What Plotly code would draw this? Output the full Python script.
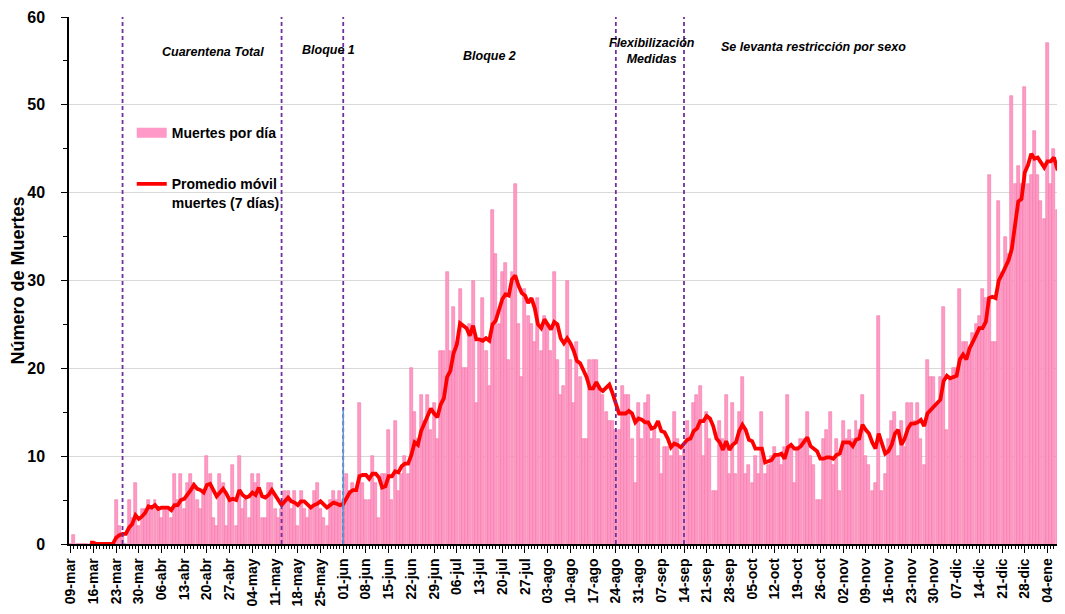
import pandas as pd
import plotly.graph_objects as go

# ---------------- data ----------------
start_date = "2020-03-09"
deaths = [
    0, 1, 0, 0, 0, 0, 0,
    0, 0, 0, 0, 0, 0, 0,
    5, 2, 1, 0, 5, 3, 7,
    2, 4, 4, 5, 4, 5, 4,
    3, 4, 4, 3, 8, 5, 8,
    4, 7, 8, 7, 5, 4, 6,
    10, 8, 3, 2, 8, 7, 2,
    5, 9, 2, 10, 4, 5, 3,
    8, 7, 8, 3, 3, 7, 7,
    4, 3, 4, 6, 6, 4, 6,
    2, 6, 4, 3, 4, 6, 7,
    4, 3, 2, 5, 6, 5, 6,
    5, 8, 6, 7, 6, 16, 7,
    5, 5, 10, 7, 3, 8, 8,
    13, 5, 14, 6, 8, 10, 8,
    20, 15, 12, 17, 14, 17, 13,
    16, 12, 22, 22, 31, 22, 27,
    23, 29, 20, 20, 25, 30, 16,
    23, 28, 22, 18, 38, 33, 25,
    31, 32, 21, 31, 41, 25, 19,
    29, 26, 25, 23, 28, 22, 26,
    25, 22, 31, 21, 17, 18, 30,
    21, 16, 23, 19, 12, 12, 21,
    21, 21, 18, 17, 15, 14, 14,
    13, 13, 18, 17, 17, 12, 7,
    16, 12, 16, 17, 12, 13, 12,
    8, 11, 11, 10, 15, 12, 10,
    11, 14, 12, 16, 17, 18, 10,
    15, 12, 6, 6, 14, 12, 17,
    8, 16, 8, 15, 19, 8, 9,
    7, 10, 8, 15, 8, 9, 10,
    11, 10, 9, 11, 17, 11, 7,
    11, 12, 12, 15, 10, 9, 5,
    5, 12, 13, 15, 9, 12, 6,
    14, 12, 13, 12, 14, 13, 17,
    10, 9, 6, 7, 26, 6, 8,
    12, 14, 15, 10, 14, 11, 16,
    16, 14, 16, 12, 9, 21, 19,
    19, 16, 19, 27, 13, 19, 20,
    20, 29, 23, 23, 22, 24, 25,
    26, 29, 28, 42, 23, 23, 39,
    31, 35, 33, 51, 41, 43, 41,
    52, 41, 42, 47, 42, 39, 37,
    57, 41, 45, 38, 42, 47,
]
dates = pd.date_range(start_date, periods=len(deaths), freq="D")

tick_labels = [
    "09-mar", "16-mar", "23-mar", "30-mar", "06-abr", "13-abr", "20-abr", "27-abr",
    "04-may", "11-may", "18-may", "25-may", "01-jun", "08-jun", "15-jun", "22-jun",
    "29-jun", "06-jul", "13-jul", "20-jul", "27-jul", "03-ago", "10-ago", "17-ago",
    "24-ago", "31-ago", "07-sep", "14-sep", "21-sep", "28-sep", "05-oct", "12-oct",
    "19-oct", "26-oct", "02-nov", "09-nov", "16-nov", "23-nov", "30-nov", "07-dic",
    "14-dic", "21-dic", "28-dic", "04-ene",
]
tick_dates = pd.date_range(start_date, periods=len(tick_labels), freq="7D")

event_dates = ["2020-03-25", "2020-05-13", "2020-06-01", "2020-08-24", "2020-09-14"]
marker_date = "2020-06-01"
marker_height = 15.3

phase_labels = ["<i>Cuarentena Total</i>", "<i>Bloque 1</i>", "<i>Bloque 2</i>",
                "<i>Flexibilización<br>Medidas</i>", "<i>Se levanta restricción por sexo</i>"]
phase_x_px = [213, 328, 489, 652, 813]
phase_y_px = [52, 50, 56, 51, 47]

series_names = ["Muertes por día", "Promedio móvil<br>muertes (7 días)"]

# 7-day moving average of the daily series (as in the chart's definition)
moving_avg = pd.Series(deaths, index=dates).rolling(7).mean()

# ---------------- figure ----------------
# the page body has an 8px margin, so the figure is placed at (8, 8)
OFF = 8
W, H = 1065 - OFF, 614 - OFF
PLOT_L, PLOT_R, PLOT_T, PLOT_B = 69, 1065, 17, 544   # plot area in window pixels
ML, MR, MT, MB = PLOT_L - OFF, 0, PLOT_T - OFF, H - (PLOT_B - OFF)
PW, PH = PLOT_R - PLOT_L, PLOT_B - PLOT_T

BAR_FILL = "#FF99C8"
BAR_EDGE = "#F2799F"
LINE_RED = "#FF0000"
PURPLE = "#7030A0"
FONT = "Liberation Sans"

fig = go.Figure()

fig.add_trace(go.Bar(
    x=dates, y=deaths, name=series_names[0], showlegend=False,
    marker=dict(color=BAR_FILL, line=dict(color=BAR_EDGE, width=0.6)),
    width=86400000 * 0.92,
))
fig.add_trace(go.Scatter(
    x=dates, y=moving_avg, mode="lines", name=series_names[1], showlegend=False,
    line=dict(color=LINE_RED, width=3.8),
))
# legend entries
fig.add_trace(go.Scatter(
    x=[None], y=[None], mode="lines", name="<b>" + series_names[0] + "</b>", legendgroup="a",
    line=dict(color=BAR_FILL, width=11),
))
fig.add_trace(go.Scatter(
    x=[None], y=[None], mode="lines", name="<b>" + series_names[1] + "</b>", legendgroup="b",
    line=dict(color=LINE_RED, width=3.8),
))

shapes = []
for d in event_dates:
    shapes.append(dict(type="line", xref="x", yref="paper", x0=d, x1=d, y0=0, y1=1,
                       line=dict(color=PURPLE, width=1.8, dash="4px,3px"), layer="above"))
shapes.append(dict(type="line", xref="x", yref="y", x0=marker_date, x1=marker_date,
                   y0=0, y1=marker_height, line=dict(color="#5B9BD5", width=1.6), layer="above"))

annotations = []
for txt, px, py in zip(phase_labels, phase_x_px, phase_y_px):
    annotations.append(dict(
        text="<b>" + txt + "</b>", xref="paper", yref="paper",
        x=(px - PLOT_L) / PW, y=(PLOT_B - py) / PH, showarrow=False,
        xanchor="center", yanchor="middle", align="center",
        font=dict(family=FONT, size=12.5, color="#000000"),
    ))

x_start = dates[0] - pd.Timedelta(hours=12)
x_end = dates[0] + pd.Timedelta(days=306.4)

fig.update_layout(
    width=W, height=H,
    margin=dict(l=ML, r=MR, t=MT, b=MB, pad=0),
    paper_bgcolor="white", plot_bgcolor="white",
    bargap=0,
    showlegend=True,
    legend=dict(x=0.063, y=0.81, xanchor="left", yanchor="top",
                bgcolor="rgba(0,0,0,0)", font=dict(family=FONT, size=14, color="#000000"),
                tracegroupgap=30, valign="top", itemwidth=30),
    shapes=shapes,
    annotations=annotations,
    font=dict(family=FONT, color="#000000"),
)

fig.update_xaxes(
    type="date", range=[x_start, x_end],
    tickmode="array", tickvals=tick_dates, ticktext=["<b>" + t + "</b>" for t in tick_labels],
    tickangle=-90, tickfont=dict(family=FONT, size=14, color="#000000"),
    ticks="outside", ticklen=7, tickwidth=1.3, tickcolor="#000000",
    minor=dict(tickmode="linear", tick0=start_date, dtick=86400000,
               ticks="outside", ticklen=3, tickwidth=1, tickcolor="#000000", showgrid=False),
    showline=True, linecolor="#000000", linewidth=1.5,
    showgrid=False, zeroline=False,
)
fig.update_yaxes(
    range=[0, 60], tickmode="array", tickvals=[0, 10, 20, 30, 40, 50, 60],
    ticktext=["<b>%d</b>" % v for v in [0, 10, 20, 30, 40, 50, 60]],
    tickfont=dict(family=FONT, size=16, color="#000000"),
    ticks="outside", ticklen=6, tickwidth=1.3, tickcolor="#000000",
    ticklabelstandoff=13,
    minor=dict(tickmode="linear", tick0=0, dtick=5, ticks="outside", ticklen=4,
               tickcolor="#000000", showgrid=False),
    showline=True, linecolor="#000000", linewidth=1.5,
    showgrid=True, gridcolor="#D9D9D9", gridwidth=1, zeroline=False,
    title=dict(text="<b>Número de Muertes</b>", font=dict(family=FONT, size=18, color="#000000"),
               standoff=6),
)

fig.write_html("out.html")
